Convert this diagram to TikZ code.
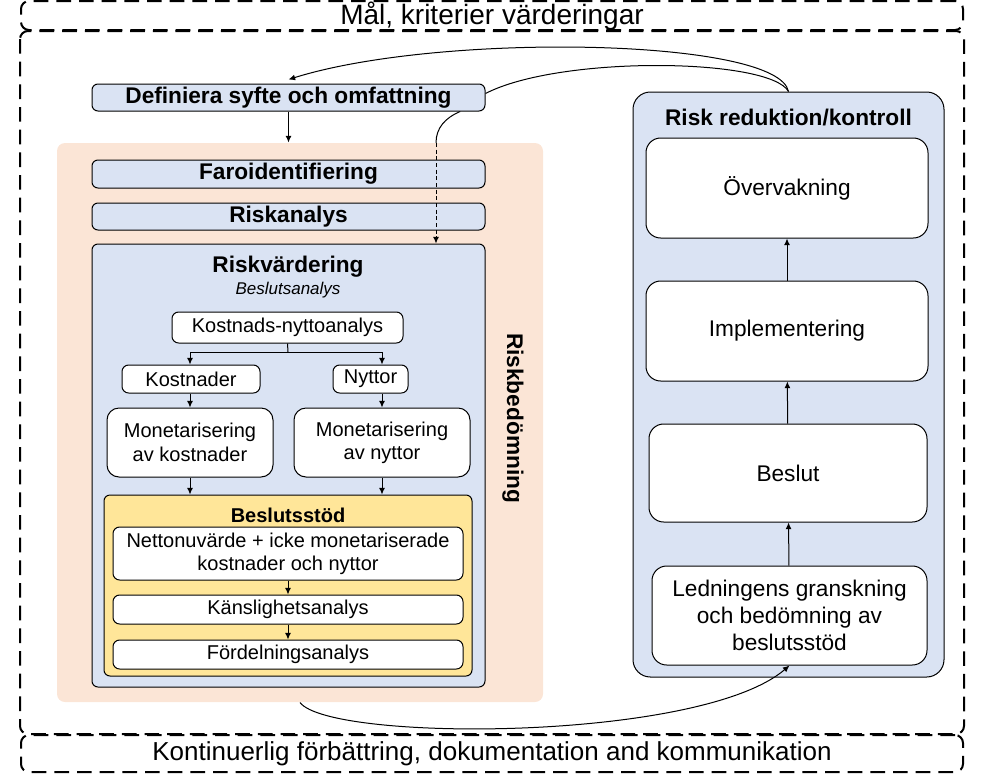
\documentclass[tikz,border=0pt]{standalone}
\usepackage{fontspec}
\setmainfont{Liberation Sans}
\usetikzlibrary{arrows.meta}

\definecolor{boxblue}{HTML}{DAE3F3}
\definecolor{peach}{HTML}{FBE5D6}
\definecolor{gold}{HTML}{FFE699}

\begin{document}
\begin{tikzpicture}[x=0.75pt, y=-0.75pt, line width=0.75pt, >={Latex[length=5pt,width=4.5pt]},
  sz/.style 2 args = {minimum width=#1*0.75pt, minimum height=#2*0.75pt},
  bar/.style = {draw, fill=boxblue, rounded corners=4.5pt, inner sep=0pt, font=\fontsize{17}{20}\selectfont\bfseries},
  wbox/.style = {draw, fill=white, rounded corners=5pt, inner sep=0pt, align=center, font=\fontsize{15}{17.5}\selectfont},
  rbox/.style = {draw, fill=white, rounded corners=11pt, inner sep=0pt, align=center, font=\fontsize{17}{20.5}\selectfont},
  dashframe/.style = {draw, dash pattern=on 11pt off 6pt, line width=1.5pt, rounded corners=6pt, inner sep=0pt},
  conn/.style = {->}]
\useasboundingbox (0,0) rectangle (986,779);

\node[dashframe, font=\fontsize{21}{25}\selectfont, text height=16pt, text depth=2pt, sz={942}{29}] (goal) at (492,15.5) {Mål, kriterier värderingar};
\node[dashframe, font=\fontsize{19.5}{23}\selectfont, sz={942}{37}] (cont) at (492,753.5) {Kontinuerlig förbättring, dokumentation and kommunikation};
\draw[dashframe] (goal.south west) rectangle (cont.north east);

\node[fill=peach, rounded corners=6pt, sz={486}{559}] (bed) at (300,422.5) {};
\node[rotate=-90, font=\fontsize{17}{20}\selectfont\bfseries] (bedl) at (513,418) {Riskbedömning};

\node[bar, sz={393}{27}] (def) at (288.5,97.5) {Definiera syfte och omfattning};
\node[bar, sz={393}{28}] (faro) at (288.5,174) {Faroidentifiering};
\node[bar, sz={393}{27}] (ana) at (288.5,216.5) {Riskanalys};
\node[bar, sz={393}{443}] (riskv) at (288.5,465.5) {};
\node[font=\fontsize{17}{20}\selectfont\bfseries] (rvt) at (288,267) {Riskvärdering};
\node[font=\fontsize{12.75}{15}\selectfont\itshape] (rvs) at (288,290) {Beslutsanalys};

\node[wbox, sz={231}{31}] (kna) at (287.5,327.5) {Kostnads-nyttoanalys};
\node[wbox, sz={138}{28}] (kost) at (191,379) {Kostnader};
\node[wbox, sz={75}{28}] (nyt) at (370.5,379) {Nyttor};
\node[wbox, rounded corners=9pt, sz={166}{69}] (mk) at (190,442.5) {Monetarisering\\av kostnader};
\node[wbox, rounded corners=9pt, sz={176}{69}] (mn) at (382,442.5) {Monetarisering\\av nyttor};

\node[draw, fill=gold, rounded corners=4.5pt, sz={368}{181}] (ys) at (288,585.5) {};
\node[font=\fontsize{15}{18}\selectfont\bfseries] (yst) at (288,515) {Beslutsstöd};
\node[wbox, sz={350}{53}] (netto) at (288,553.5) {Nettonuvärde + icke monetariserade\\kostnader och nyttor};
\node[wbox, sz={350}{29}] (kansl) at (288,609.5) {Känslighetsanalys};
\node[wbox, sz={350}{29}] (ford) at (288,654.5) {Fördelningsanalys};

\node[draw, fill=boxblue, rounded corners=13pt, sz={311}{585}] (rr) at (788.5,384.5) {};
\node[font=\fontsize{17}{20}\selectfont\bfseries] (rrt) at (788.5,118) {Risk reduktion/kontroll};
\node[rbox, sz={282}{100}] (ov) at (787,188) {Övervakning};
\node[rbox, sz={282}{100}] (imp) at (787,331) {Implementering};
\node[rbox, sz={278}{98}] (bes) at (788,473) {Beslut};
\node[rbox, sz={275}{99}] (led) at (789.5,615.5) {Ledningens granskning\\och bedömning av\\beslutsstöd};

\draw[conn] (def.south) -- (def.south |- bed.north);
\coordinate (split) at (288,352);
\draw (kna.south) -- (split);
\draw[conn] (split) -| (mk.north |- kost.north);
\draw[conn] (split) -| (mn.north |- nyt.north);
\draw[conn] (mk.north |- kost.south) -- (mk.north);
\draw[conn] (mn.north |- nyt.south) -- (mn.north);
\draw[conn] (mk.south) -- (mk.south |- ys.north);
\draw[conn] (mn.south) -- (mn.south |- ys.north);
\draw[conn] (netto) -- (kansl);
\draw[conn] (kansl) -- (ford);

\draw[conn] (led) -- (bes);
\draw[conn] (bes) -- (imp);
\draw[conn] (imp) -- (ov);

\draw[conn] (rr.north) .. controls (778,38) and (440,32) .. ([yshift=3pt]def.north);
\draw (rr.north) .. controls (770,58) and (560,55) .. ([yshift=3pt]def.east);
\draw ([xshift=-19pt]def.south east) .. controls (445,118) and (436,128) .. (436,143) coordinate (dv);
\draw[conn, dash pattern=on 3pt off 2pt] (dv) -- (dv |- riskv.north);
\draw[conn] (bed.south) .. controls (330,742) and (700,742) .. (led.south);
\end{tikzpicture}
\end{document}
